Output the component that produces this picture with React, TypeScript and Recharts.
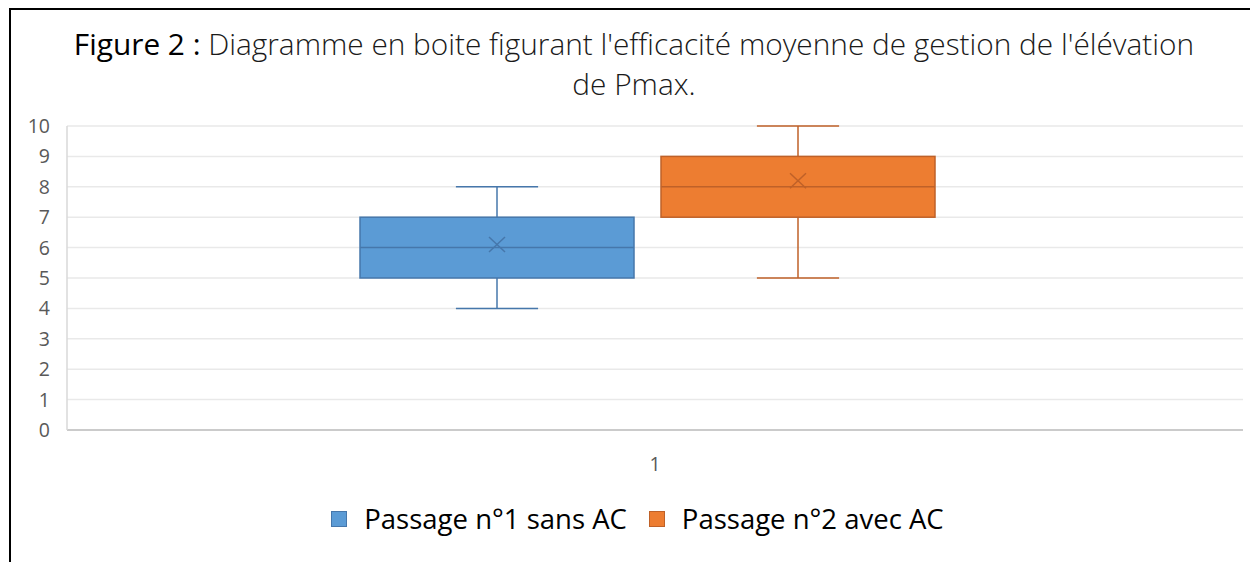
import React from 'react';
import { ComposedChart, Bar, XAxis, YAxis, CartesianGrid, Legend } from 'recharts';

const categories = ['1'];
const seriesNames = ['Passage n°1 sans AC', 'Passage n°2 avec AC'];
const mins = [4, 5];
const q1s = [5, 7];
const medians = [6, 8];
const q3s = [7, 9];
const maxs = [8, 10];
const means = [6.1, 8.2];
const yTicks = [0, 1, 2, 3, 4, 5, 6, 7, 8, 9, 10];

const FILLS = ['#5B9BD5', '#ED7D31'];
const STROKES = ['#4677AB', '#BF6128'];
const FONT = "'Open Sans', sans-serif";

// one row per category, each series holds its whisker range [min, max]
const data = categories.map((name) => ({
  name,
  s0: [mins[0], maxs[0]],
  s1: [mins[1], maxs[1]],
}));

// draws the box from the bar's pixel range (min..max), interpolated linearly
const BoxShape = (props: any) => {
  const { x, y, width, height, s } = props;
  const lo = mins[s];
  const hi = maxs[s];
  const py = (v: number) => y + (height * (hi - v)) / (hi - lo);
  const cx = x + width / 2;
  const cap = width * 0.3;
  const stroke = STROKES[s];
  const yq1 = py(q1s[s]);
  const yq3 = py(q3s[s]);
  const ym = py(means[s]);
  return (
    <g>
      <line x1={cx} x2={cx} y1={py(hi)} y2={yq3} stroke={stroke} strokeWidth={1.5} />
      <line x1={cx} x2={cx} y1={yq1} y2={py(lo)} stroke={stroke} strokeWidth={1.5} />
      <line x1={cx - cap / 2} x2={cx + cap / 2} y1={py(hi)} y2={py(hi)} stroke={stroke} strokeWidth={1.5} />
      <line x1={cx - cap / 2} x2={cx + cap / 2} y1={py(lo)} y2={py(lo)} stroke={stroke} strokeWidth={1.5} />
      <rect x={x} y={yq3} width={width} height={yq1 - yq3} fill={FILLS[s]} stroke={stroke} strokeWidth={1.5} />
      <line x1={x} x2={x + width} y1={py(medians[s])} y2={py(medians[s])} stroke={stroke} strokeWidth={1.5} />
      <line x1={cx - 8} x2={cx + 8} y1={ym - 7.5} y2={ym + 7.5} stroke={stroke} strokeWidth={1.5} />
      <line x1={cx - 8} x2={cx + 8} y1={ym + 7.5} y2={ym - 7.5} stroke={stroke} strokeWidth={1.5} />
    </g>
  );
};

const LegendContent = () => (
  <div style={{ display: 'flex', justifyContent: 'center', alignItems: 'center', fontFamily: FONT, fontSize: 27.5, color: '#000' }}>
    {seriesNames.map((n, i) => (
      <div key={n} style={{ display: 'flex', alignItems: 'center', marginRight: i === 0 ? 22 : 0 }}>
        <div style={{ width: 14, height: 14, background: FILLS[i], border: `1.5px solid ${STROKES[i]}`, marginRight: 17 }} />
        <span>{n}</span>
      </div>
    ))}
  </div>
);

export default function App() {
  return (
    <div style={{ position: 'absolute', left: 0, top: 0, width: 1250, height: 562, background: '#fff', overflow: 'hidden' }}>
      <div style={{ position: 'absolute', left: 9, top: 8, width: 1250, height: 562, borderTop: '2px solid #000', borderLeft: '2px solid #000' }} />
      <div style={{ position: 'absolute', left: 0, top: 24, width: 1268, textAlign: 'center', fontFamily: FONT, fontSize: 29.8, lineHeight: '40px', color: '#1a1a1a', fontWeight: 300 }}>
        <div><span style={{ color: '#000', fontWeight: 500 }}>Figure 2 :</span> Diagramme en boite figurant l'efficacité moyenne de gestion de l'élévation</div>
        <div>de Pmax.</div>
      </div>
      <div style={{ position: 'absolute', left: 0, top: 0 }}>
        <ComposedChart width={1250} height={562} data={data} margin={{ top: 126, right: 7, left: 0, bottom: 92 }} barSize={274} barGap={27}>
          <CartesianGrid vertical={false} stroke="#E9E9E9" strokeWidth={1.5} />
          <XAxis dataKey="name" height={40} padding={{ left: 0, right: 16 }} tickLine={false} axisLine={{ stroke: '#BFBFBF', strokeWidth: 1.5 }} tickMargin={21} tick={{ fill: '#595959', fontSize: 19.5, fontFamily: FONT, dx: 8 }} />
          <YAxis domain={[0, 10]} ticks={yTicks} interval={0} width={67} tickLine={false} axisLine={{ stroke: '#D9D9D9', strokeWidth: 1.5 }} tickMargin={11} tick={{ fill: '#595959', fontSize: 19.5, fontFamily: FONT }} />
          <Legend verticalAlign="middle" align="center" content={<LegendContent />} wrapperStyle={{ top: 500, left: 0, width: 1275 }} />
          <Bar dataKey="s0" name={seriesNames[0]} isAnimationActive={false} shape={(p: any) => <BoxShape {...p} s={0} />} />
          <Bar dataKey="s1" name={seriesNames[1]} isAnimationActive={false} shape={(p: any) => <BoxShape {...p} s={1} />} />
        </ComposedChart>
      </div>
    </div>
  );
}
